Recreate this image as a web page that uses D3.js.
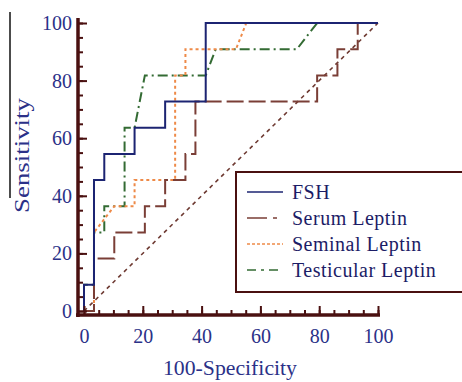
<!DOCTYPE html>
<html>
<head>
<meta charset="utf-8">
<script src="https://cdn.jsdelivr.net/npm/d3@7"></script>
<style>
  body { margin: 0; background: #fff; }
  svg { display: block; }
</style>
</head>
<body>
<div class="roc-plot"></div>
<script>
// ROC curves, x = 100-Specificity, y = Sensitivity
let fshX = [0, 0, 3.4, 3.4, 6.9, 6.9, 17.2, 17.2, 27.6, 27.6, 41.4, 41.4, 100];
let fshY = [0, 9.1, 9.1, 45.5, 45.5, 54.5, 54.5, 63.6, 63.6, 72.7, 72.7, 100, 100];

let serumX = [0, 3.4, 3.4, 10.3, 10.3, 20.7, 20.7, 27.6, 27.6, 34.5, 34.5, 37.9, 37.9, 79.3, 79.3, 86.2, 86.2, 93.1, 93.1, 100];
let serumY = [0, 0, 18.2, 18.2, 27.3, 27.3, 36.4, 36.4, 45.5, 45.5, 54.5, 54.5, 72.7, 72.7, 81.8, 81.8, 90.9, 90.9, 100, 100];

let seminalX = [0, 3.4, 3.4, 10.3, 17.2, 17.2, 31, 31, 34.5, 34.5, 51.7, 55.2, 100];
let seminalY = [0, 0, 27.3, 36.4, 36.4, 45.5, 45.5, 81.8, 81.8, 90.9, 90.9, 100, 100];

let testicularX = [0, 0, 3.4, 3.4, 6.9, 6.9, 13.8, 13.8, 17.2, 20.7, 41.4, 44.8, 72.4, 79.3, 100];
let testicularY = [0, 9.1, 9.1, 27.3, 27.3, 36.4, 36.4, 63.6, 63.6, 81.8, 81.8, 90.9, 90.9, 100, 100];

let diagX = [0, 100];
let diagY = [0, 100];

let seriesNames = ["FSH", "Serum Leptin", "Seminal Leptin", "Testicular Leptin"];
let majorTicks = [0, 20, 40, 60, 80, 100];
let minorTicks = [0, 5, 10, 15, 20, 25, 30, 35, 40, 45, 50, 55, 60, 65, 70, 75, 80, 85, 90, 95, 100];

let w = 462, h = 382;
let axisColor = "#4a1010";
let labelColor = "#2b3188";
let serif = "'Liberation Serif', 'DejaVu Serif', serif";

let svg = d3.select(".roc-plot")
  .append("svg")
  .attr("width", w)
  .attr("height", h);

let xScale = d3.scaleLinear().domain([0, 100]).range([84, 378]);
let yScale = d3.scaleLinear().domain([0, 100]).range([311, 23]);

// axes sit a few pixels outside the zero lines
let axisX = xScale(0) - 6;
let axisY = yScale(0) + 4;

let zip = function(xs, ys) { return xs.map(function(x, i) { return [x, ys[i]]; }); };

let series = [
  { name: seriesNames[0], pts: zip(fshX, fshY), color: "#1c2472", dash: null, width: 2 },
  { name: seriesNames[1], pts: zip(serumX, serumY), color: "#7a3e36", dash: "17,5", width: 2 },
  { name: seriesNames[2], pts: zip(seminalX, seminalY), color: "#ee8a48", dash: "3,3", width: 2 },
  { name: seriesNames[3], pts: zip(testicularX, testicularY), color: "#336b33", dash: "10,4,2,4", width: 2 }
];

let line = d3.line()
  .x(function(d) { return xScale(d[0]); })
  .y(function(d) { return yScale(d[1]); });

// reference diagonal
svg.append("path")
  .attr("d", line(zip(diagX, diagY)))
  .attr("fill", "none")
  .attr("stroke", "#6e3a32")
  .attr("stroke-width", 1.6)
  .attr("stroke-dasharray", "4,4");

// draw back to front so FSH stays on top
series.slice().reverse().forEach(function(s) {
  svg.append("path")
    .attr("d", line(s.pts))
    .attr("fill", "none")
    .attr("stroke", s.color)
    .attr("stroke-width", s.width)
    .attr("stroke-dasharray", s.dash);
});

////////////// axes //////////////
let yMinor = d3.axisLeft(yScale).tickValues(minorTicks).tickSize(-5).tickSizeOuter(0).tickFormat("");
let yMajor = d3.axisLeft(yScale).tickValues(majorTicks).tickSize(-9).tickSizeOuter(0).tickPadding(6);
let xMinor = d3.axisBottom(xScale).tickValues(minorTicks).tickSize(-5).tickSizeOuter(0).tickFormat("");
let xMajor = d3.axisBottom(xScale).tickValues(majorTicks).tickSize(-9).tickSizeOuter(0).tickPadding(14);

[yMinor, yMajor].forEach(function(ax) {
  svg.append("g")
    .attr("class", "axis")
    .attr("transform", "translate(" + axisX + ",0)")
    .call(ax);
});
[xMinor, xMajor].forEach(function(ax) {
  svg.append("g")
    .attr("class", "axis")
    .attr("transform", "translate(0," + axisY + ")")
    .call(ax);
});

svg.selectAll(".axis .domain").remove();
svg.selectAll(".axis line")
  .attr("stroke", axisColor)
  .attr("stroke-width", 2);
svg.selectAll(".axis text")
  .attr("fill", labelColor)
  .attr("font-family", serif)
  .attr("font-size", "20px");

svg.append("line")
  .attr("x1", axisX).attr("x2", axisX)
  .attr("y1", axisY + 2).attr("y2", yScale(100) - 5)
  .attr("stroke", axisColor)
  .attr("stroke-width", 3.5);
svg.append("line")
  .attr("x1", axisX - 2).attr("x2", xScale(100) + 2)
  .attr("y1", axisY).attr("y2", axisY)
  .attr("stroke", axisColor)
  .attr("stroke-width", 3.5);

////////////// axis titles //////////////
svg.append("text")
  .text("100-Specificity")
  .attr("x", 163)
  .attr("y", 375)
  .attr("textLength", 134)
  .attr("lengthAdjust", "spacingAndGlyphs")
  .attr("font-family", serif)
  .attr("font-size", "20px")
  .attr("fill", labelColor);

svg.append("text")
  .text("Sensitivity")
  .attr("transform", "translate(29,213) rotate(-90)")
  .attr("textLength", 115)
  .attr("lengthAdjust", "spacingAndGlyphs")
  .attr("font-family", serif)
  .attr("font-size", "20px")
  .attr("fill", labelColor);

// stray rule left of the title
svg.append("line")
  .attr("x1", 10).attr("x2", 10)
  .attr("y1", 12).attr("y2", 198)
  .attr("stroke", "#111")
  .attr("stroke-width", 1.5);

////////////// legend //////////////
let legend = svg.append("g").attr("transform", "translate(236,172)");

legend.append("rect")
  .attr("x", 0).attr("y", 0)
  .attr("width", 240).attr("height", 120)
  .attr("fill", "#fff")
  .attr("stroke", axisColor)
  .attr("stroke-width", 2);

let rowH = 26;
let rows = legend.selectAll(".leg")
  .data(series)
  .enter()
  .append("g")
  .attr("class", "leg")
  .attr("transform", function(d, i) { return "translate(0," + (20 + i * rowH) + ")"; });

rows.append("line")
  .attr("x1", 11).attr("x2", 47)
  .attr("y1", 0).attr("y2", 0)
  .attr("stroke", function(d) { return d.color; })
  .attr("stroke-width", 1.6)
  .attr("stroke-dasharray", function(d, i) { return [null, "20,6,4,10", "3,2", "9,5,3,5"][i]; });

rows.append("text")
  .text(function(d) { return d.name; })
  .attr("x", 56)
  .attr("dy", "0.35em")
  .attr("font-family", serif)
  .attr("font-size", "20px")
  .attr("letter-spacing", "0.5px")
  .attr("fill", "#1c1c66");
</script>
</body>
</html>
